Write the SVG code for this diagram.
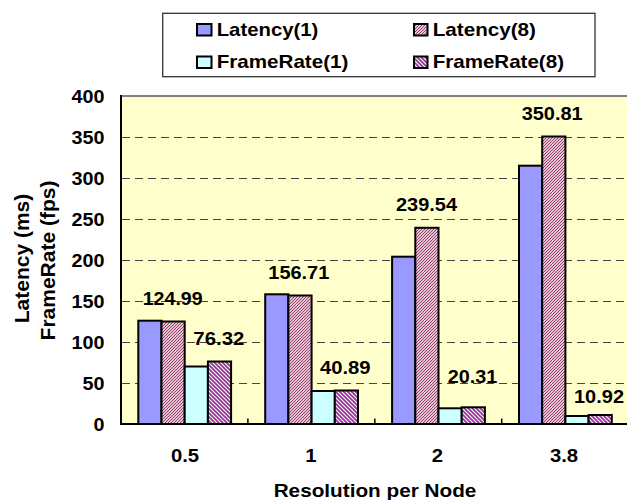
<svg xmlns="http://www.w3.org/2000/svg" width="627" height="500" viewBox="0 0 627 500">
<style>
text{font-family:"Liberation Sans",Arial,sans-serif;font-weight:bold;fill:#000;}
.t{font-size:19px;}
.ax{font-size:21px;}
.bar{stroke:#000;stroke-width:2;}
.l1{fill:#9999FF;}
.f1{fill:#CCFFFF;}
.l8{fill:url(#pL8);}
.f8{fill:url(#pF8);}
.grid{stroke:#444;stroke-width:1.2;stroke-dasharray:8 5;fill:none;}
.sw{stroke:#000;stroke-width:2;}
</style>
<defs>
<pattern id="pL8" patternUnits="userSpaceOnUse" width="3" height="3">
<rect width="3" height="3" fill="#fff"/>
<path d="M-1,1 L1,-1 M0,3 L3,0 M2,4 L4,2" stroke="#993366" stroke-width="1.1"/>
</pattern>
<pattern id="pF8" patternUnits="userSpaceOnUse" width="4" height="4">
<rect width="4" height="4" fill="#fff"/>
<path d="M-1,3 L1,5 M0,0 L4,4 M3,-1 L5,1" stroke="#993399" stroke-width="1.8"/>
</pattern>
</defs>

<g id="plot">
<rect x="121" y="96" width="510" height="328" fill="#FFFFCC"/>
<g id="gridlines">
<line class="grid" x1="122" y1="383.5" x2="627" y2="383.5"/>
<line class="grid" x1="122" y1="342.5" x2="627" y2="342.5"/>
<line class="grid" x1="122" y1="301.5" x2="627" y2="301.5"/>
<line class="grid" x1="122" y1="260.5" x2="627" y2="260.5"/>
<line class="grid" x1="122" y1="219.5" x2="627" y2="219.5"/>
<line class="grid" x1="122" y1="178.5" x2="627" y2="178.5"/>
<line class="grid" x1="122" y1="137.5" x2="627" y2="137.5"/>
</g>
<line x1="121" y1="96" x2="627" y2="96" stroke="#808080" stroke-width="2"/>
</g>

<g id="series-latency1">
<rect class="bar l1" x="138.3" y="320.7" width="23.2" height="103.3"/>
<rect class="bar l1" x="265.2" y="294.3" width="23.2" height="129.7"/>
<rect class="bar l1" x="392.1" y="256.7" width="23.2" height="167.3"/>
<rect class="bar l1" x="519" y="165.7" width="23.2" height="258.3"/>
</g>
<g id="series-latency8">
<rect class="bar l8" x="161.5" y="321.5" width="23.2" height="102.5"/>
<rect class="bar l8" x="288.4" y="295.5" width="23.2" height="128.5"/>
<rect class="bar l8" x="415.3" y="227.8" width="23.2" height="196.2"/>
<rect class="bar l8" x="542.2" y="136.5" width="23.2" height="287.5"/>
</g>
<g id="series-framerate1">
<rect class="bar f1" x="184.7" y="366.5" width="23.2" height="57.5"/>
<rect class="bar f1" x="311.6" y="391" width="23.2" height="33"/>
<rect class="bar f1" x="438.5" y="408.3" width="23.2" height="15.7"/>
<rect class="bar f1" x="565.4" y="416" width="23.2" height="8"/>
</g>
<g id="series-framerate8">
<rect class="bar f8" x="207.9" y="361.5" width="23.2" height="62.5"/>
<rect class="bar f8" x="334.8" y="390.5" width="23.2" height="33.5"/>
<rect class="bar f8" x="461.7" y="407.3" width="23.2" height="16.7"/>
<rect class="bar f8" x="588.6" y="415" width="23.2" height="9"/>
</g>

<g id="axes" stroke="#000">
<line x1="121" y1="95" x2="121" y2="425" stroke-width="2"/>
<line x1="120" y1="424" x2="627" y2="424" stroke-width="2"/>
<line x1="247.9" y1="418.5" x2="247.9" y2="424" stroke-width="1.5"/>
<line x1="374.8" y1="418.5" x2="374.8" y2="424" stroke-width="1.5"/>
<line x1="501.7" y1="418.5" x2="501.7" y2="424" stroke-width="1.5"/>
</g>

<g id="y-tick-labels" class="t" text-anchor="end">
<text x="104.5" y="430.5" textLength="11" lengthAdjust="spacingAndGlyphs">0</text>
<text x="104.5" y="389.5" textLength="22" lengthAdjust="spacingAndGlyphs">50</text>
<text x="104.5" y="348.5" textLength="33" lengthAdjust="spacingAndGlyphs">100</text>
<text x="104.5" y="307.5" textLength="33" lengthAdjust="spacingAndGlyphs">150</text>
<text x="104.5" y="266.5" textLength="33" lengthAdjust="spacingAndGlyphs">200</text>
<text x="104.5" y="225.5" textLength="33" lengthAdjust="spacingAndGlyphs">250</text>
<text x="104.5" y="184.5" textLength="33" lengthAdjust="spacingAndGlyphs">300</text>
<text x="104.5" y="143.5" textLength="33" lengthAdjust="spacingAndGlyphs">350</text>
<text x="104.5" y="102.5" textLength="33" lengthAdjust="spacingAndGlyphs">400</text>
</g>

<g id="x-tick-labels" class="t" text-anchor="middle">
<text x="185" y="462" textLength="28.2" lengthAdjust="spacingAndGlyphs">0.5</text>
<text x="311" y="462" textLength="11.3" lengthAdjust="spacingAndGlyphs">1</text>
<text x="437.5" y="462" textLength="11.3" lengthAdjust="spacingAndGlyphs">2</text>
<text x="564" y="462" textLength="28.2" lengthAdjust="spacingAndGlyphs">3.8</text>
</g>

<g id="data-labels" class="t" text-anchor="middle">
<text x="172.7" y="305" textLength="60" lengthAdjust="spacingAndGlyphs">124.99</text>
<text x="218.8" y="345" textLength="51" lengthAdjust="spacingAndGlyphs">76.32</text>
<text x="298.8" y="279" textLength="61" lengthAdjust="spacingAndGlyphs">156.71</text>
<text x="345.3" y="374.3" textLength="50.7" lengthAdjust="spacingAndGlyphs">40.89</text>
<text x="426.5" y="210.7" textLength="61" lengthAdjust="spacingAndGlyphs">239.54</text>
<text x="472.5" y="383.3" textLength="49.6" lengthAdjust="spacingAndGlyphs">20.31</text>
<text x="552.2" y="120" textLength="61" lengthAdjust="spacingAndGlyphs">350.81</text>
<text x="599" y="403.3" textLength="50" lengthAdjust="spacingAndGlyphs">10.92</text>
</g>

<g id="axis-titles">
<text class="t" x="375" y="497" text-anchor="middle" textLength="202.7" lengthAdjust="spacingAndGlyphs">Resolution per Node</text>
<text class="ax" transform="translate(28.5,258.5) rotate(-90)" text-anchor="middle">Latency (ms)</text>
<text class="ax" transform="translate(55,260.5) rotate(-90)" text-anchor="middle">FrameRate (fps)</text>
</g>

<g id="legend">
<rect x="162.7" y="13.3" width="432.3" height="63.4" fill="#fff" stroke="#333" stroke-width="1.3"/>
<g id="legend-latency1">
<rect class="sw l1" x="197" y="24" width="14.5" height="11.5"/>
<text class="t" x="216.7" y="35.7" textLength="101.7" lengthAdjust="spacingAndGlyphs">Latency(1)</text>
</g>
<g id="legend-latency8">
<rect class="sw l8" x="414" y="24" width="13.5" height="11.5"/>
<text class="t" x="432.7" y="35.7" textLength="103.3" lengthAdjust="spacingAndGlyphs">Latency(8)</text>
</g>
<g id="legend-framerate1">
<rect class="sw f1" x="197" y="56.5" width="14.5" height="11.5"/>
<text class="t" x="216.7" y="68.3" textLength="131.7" lengthAdjust="spacingAndGlyphs">FrameRate(1)</text>
</g>
<g id="legend-framerate8">
<rect class="sw f8" x="414" y="56.5" width="13.5" height="11.5"/>
<text class="t" x="432.7" y="68.3" textLength="131.3" lengthAdjust="spacingAndGlyphs">FrameRate(8)</text>
</g>
</g>
</svg>
